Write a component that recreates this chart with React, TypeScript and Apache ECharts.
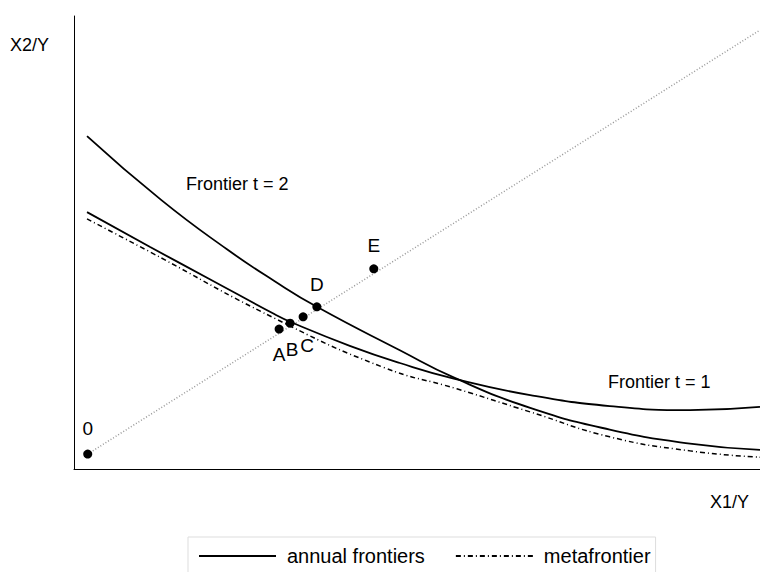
import React, { useEffect, useRef } from "react";
import * as echarts from "echarts";

const frontier2X = [1.9, 12.7, 22.3, 29.2, 35.4, 47.5, 55.5, 66.5, 78.1, 89.8, 100];
const frontier2Y = [73.5, 59.4, 48.5, 41.5, 35.8, 26.2, 20.1, 13.5, 8.7, 5.6, 4.2];

const frontier1X = [1.9, 11.1, 19.8, 29.2, 31.5, 40.2, 47.5, 55.5, 66.5, 78.1, 89.8, 100];
const frontier1Y = [56.7, 49.0, 41.9, 34.2, 32.5, 27.2, 23.4, 19.9, 16.3, 13.9, 13.0, 13.7];

const metaX = [1.9, 11.1, 29.2, 45.0, 55.8, 66.5, 78.1, 89.8, 100];
const metaY = [55.2, 47.9, 33.3, 22.5, 17.7, 12.6, 7.1, 4.0, 2.6];

const rayX = [2.0, 100];
const rayY = [3.3, 96.9];

const pointNames = ["0", "A", "B", "C", "D", "E"];
const pointX = [2.0, 29.9, 31.5, 33.4, 35.4, 43.7];
const pointY = [3.3, 30.9, 32.2, 33.6, 35.8, 44.2];

const legendNames = ["annual frontiers", "metafrontier"];
const axisNames = ["X1/Y", "X2/Y"];
const curveLabels = ["Frontier t = 2", "Frontier t = 1"];

const zip = (xs: number[], ys: number[]) => xs.map((x, i) => [x, ys[i]]);

const labelStyle: Record<string, any> = {
  "0": { position: "top", distance: 12 },
  A: { position: "bottom", distance: 11 },
  B: { position: "bottom", distance: 12, offset: [2, 0] },
  C: { position: "bottom", distance: 15, offset: [4, 0] },
  D: { position: "top", distance: 8 },
  E: { position: "top", distance: 9 },
};

export default function App() {
  const ref = useRef<HTMLDivElement>(null);
  useEffect(() => {
    if (!ref.current) return;
    const chart = echarts.init(ref.current, null, { renderer: "svg" });
    const font = "Liberation Sans, Arial, sans-serif";
    const curve = {
      type: "line",
      smooth: 0.5,
      symbol: "none",
      showSymbol: false,
      itemStyle: { color: "#000" },
    };
    chart.setOption({
      animation: false,
      backgroundColor: "#fff",
      grid: { left: 74, right: 0, top: 16, bottom: 103 },
      xAxis: {
        type: "value",
        min: 0,
        max: 100,
        axisLine: { show: true, lineStyle: { color: "#000", width: 1 } },
        axisTick: { show: false },
        axisLabel: { show: false },
        splitLine: { show: false },
      },
      yAxis: {
        type: "value",
        min: 0,
        max: 100,
        axisLine: { show: true, lineStyle: { color: "#000", width: 1 } },
        axisTick: { show: false },
        axisLabel: { show: false },
        splitLine: { show: false },
      },
      legend: {
        left: 188,
        top: 537,
        data: legendNames,
        itemWidth: 77,
        itemHeight: 14,
        itemGap: 30,
        padding: [9, 5, 9, 10],
        borderColor: "#ddd",
        borderWidth: 1,
        itemStyle: { opacity: 0 },
        textStyle: { fontFamily: font, fontSize: 20, color: "#000", padding: [0, 0, 0, 6] },
      },
      graphic: [
        { type: "text", left: 10, top: 36, style: { text: axisNames[1], font: `18px ${font}`, fill: "#000" } },
        { type: "text", left: 710, top: 493, style: { text: axisNames[0], font: `18px ${font}`, fill: "#000" } },
        { type: "text", left: 186, top: 175, style: { text: curveLabels[0], font: `18px ${font}`, fill: "#000" } },
        { type: "text", left: 608, top: 373, style: { text: curveLabels[1], font: `18px ${font}`, fill: "#000" } },
      ],
      series: [
        {
          name: "ray",
          type: "line",
          data: zip(rayX, rayY),
          symbol: "none",
          lineStyle: { color: "#999", width: 1.5, type: [1, 2] },
          z: 1,
        },
        {
          ...curve,
          name: legendNames[0],
          data: zip(frontier2X, frontier2Y),
          lineStyle: { color: "#000", width: 1.8 },
          z: 3,
        },
        {
          ...curve,
          name: legendNames[0],
          data: zip(frontier1X, frontier1Y),
          lineStyle: { color: "#000", width: 1.8 },
          z: 3,
        },
        {
          ...curve,
          name: legendNames[1],
          data: zip(metaX, metaY),
          lineStyle: { color: "#000", width: 1.5, type: [5, 3, 1, 3] },
          z: 2,
        },
        {
          name: "points",
          type: "scatter",
          symbol: "circle",
          symbolSize: 9,
          itemStyle: { color: "#000", opacity: 1 },
          z: 5,
          data: pointNames.map((n, i) => ({
            value: [pointX[i], pointY[i]],
            label: {
              show: true,
              formatter: n,
              color: "#000",
              opacity: 1,
              fontFamily: font,
              fontSize: 19,
              ...labelStyle[n],
            },
          })),
        },
      ],
    });
    return () => chart.dispose();
  }, []);
  return (
    <div
      ref={ref}
      style={{ position: "fixed", left: 0, top: 0, width: 760, height: 572 }}
    />
  );
}
